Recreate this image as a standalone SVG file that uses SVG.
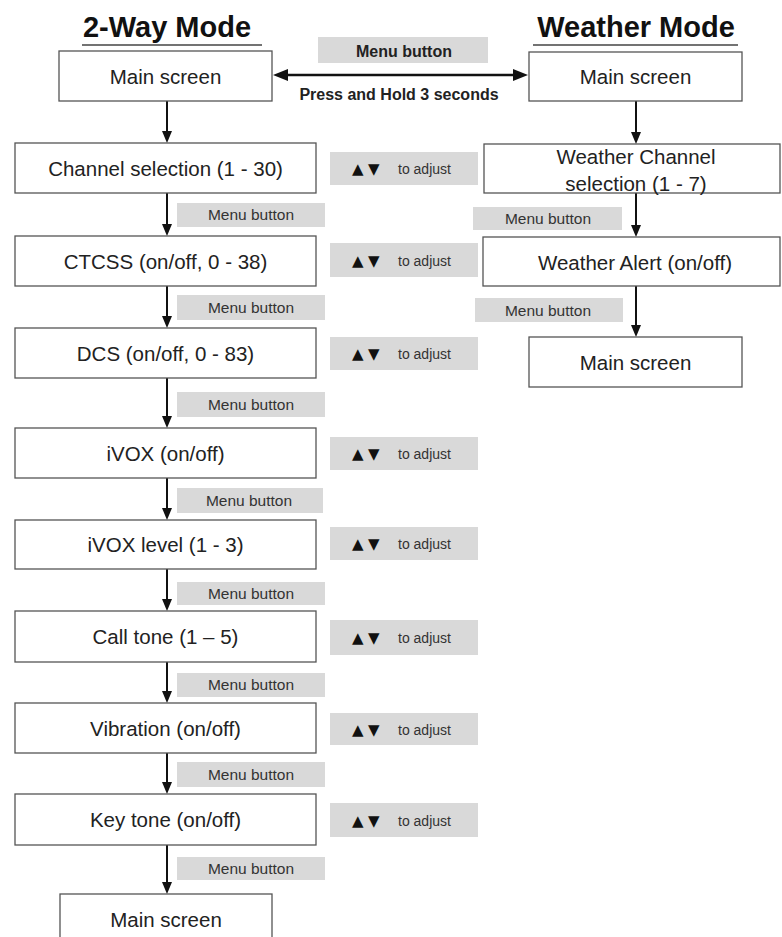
<svg xmlns="http://www.w3.org/2000/svg" width="782" height="937" viewBox="0 0 782 937">
<defs>
<marker id="ah" viewBox="0 0 12 10" refX="6" refY="5" markerWidth="12" markerHeight="10" markerUnits="userSpaceOnUse" orient="auto"><path d="M0,0 L12,5 L0,10 z" fill="#111"/></marker>
<marker id="ahb" viewBox="0 0 15 12" refX="8" refY="6" markerWidth="15" markerHeight="12" markerUnits="userSpaceOnUse" orient="auto-start-reverse"><path d="M0,0 L15,6 L0,12 z" fill="#111"/></marker>
</defs>
<style>
.box{fill:#fff;stroke:#555;stroke-width:1.3}
.t{font-family:"Liberation Sans",Arial,sans-serif;font-size:20.5px;fill:#222;text-anchor:middle}
.title{font-family:"Liberation Sans",Arial,sans-serif;font-size:29px;font-weight:bold;fill:#111;text-anchor:middle}
.ul{stroke:#444;stroke-width:1.5}
.grey{fill:#d9d9d9}
.m{font-family:"Liberation Sans",Arial,sans-serif;font-size:15.5px;fill:#333;text-anchor:middle}
.adj{font-family:"Liberation Sans",Arial,sans-serif;font-size:14px;fill:#333}
.tri{font-family:"DejaVu Sans",sans-serif;font-size:15px;fill:#111}
.b{font-family:"Liberation Sans",Arial,sans-serif;font-size:16px;font-weight:bold;fill:#222;text-anchor:middle}
.c{stroke:#111;stroke-width:2;fill:none;marker-end:url(#ah)}
</style>
<rect width="782" height="937" fill="#fff"/>

<g id="titles">
<text class="title" x="167" y="37">2-Way Mode</text>
<line class="ul" x1="82" y1="45" x2="262" y2="45"/>
<text class="title" x="636" y="37">Weather Mode</text>
<line class="ul" x1="533" y1="45" x2="738" y2="45"/>
</g>

<g id="connectors">
<line x1="280" y1="75" x2="521" y2="75" stroke="#111" stroke-width="2.5" marker-start="url(#ahb)" marker-end="url(#ahb)"/>
<line class="c" x1="167" y1="101" x2="167" y2="137"/>
<line class="c" x1="167" y1="193" x2="167" y2="230"/>
<line class="c" x1="167" y1="286" x2="167" y2="322"/>
<line class="c" x1="167" y1="378" x2="167" y2="422"/>
<line class="c" x1="167" y1="478" x2="167" y2="514"/>
<line class="c" x1="167" y1="569" x2="167" y2="605"/>
<line class="c" x1="167" y1="662" x2="167" y2="697"/>
<line class="c" x1="167" y1="753" x2="167" y2="788"/>
<line class="c" x1="167" y1="845" x2="167" y2="888"/>
<line class="c" x1="636" y1="101" x2="636" y2="138"/>
<line class="c" x1="636" y1="193" x2="636" y2="231"/>
<line class="c" x1="636" y1="286" x2="636" y2="331"/>
</g>

<g id="label-top">
<rect class="grey" x="318" y="37" width="170" height="26"/>
<text class="b" x="404" y="57">Menu button</text>
<text class="b" x="399" y="100">Press and Hold 3 seconds</text>
</g>

<g id="menu-labels">
<rect class="grey" x="177" y="203" width="148" height="24"/><text class="m" x="251" y="220">Menu button</text>
<rect class="grey" x="177" y="295" width="148" height="25"/><text class="m" x="251" y="313">Menu button</text>
<rect class="grey" x="177" y="392" width="148" height="25"/><text class="m" x="251" y="410">Menu button</text>
<rect class="grey" x="177" y="488" width="146" height="25"/><text class="m" x="249" y="506">Menu button</text>
<rect class="grey" x="177" y="582" width="148" height="23"/><text class="m" x="251" y="599">Menu button</text>
<rect class="grey" x="177" y="673" width="148" height="24"/><text class="m" x="251" y="690">Menu button</text>
<rect class="grey" x="177" y="762" width="148" height="25"/><text class="m" x="251" y="780">Menu button</text>
<rect class="grey" x="177" y="857" width="148" height="23"/><text class="m" x="251" y="874">Menu button</text>
<rect class="grey" x="473" y="207" width="149" height="23"/><text class="m" x="548" y="224">Menu button</text>
<rect class="grey" x="475" y="298" width="148" height="24"/><text class="m" x="548" y="316" fill="#555">Menu button</text>
</g>

<g id="adjust-labels">
<rect class="grey" x="330" y="152" width="148" height="33"/><text class="adj" y="174"><tspan class="tri" x="352">▲</tspan><tspan class="tri" x="368">▼</tspan><tspan x="398">to adjust</tspan></text>
<rect class="grey" x="330" y="243" width="148" height="34"/><text class="adj" y="266"><tspan class="tri" x="352">▲</tspan><tspan class="tri" x="368">▼</tspan><tspan x="398">to adjust</tspan></text>
<rect class="grey" x="330" y="337" width="148" height="33"/><text class="adj" y="359"><tspan class="tri" x="352">▲</tspan><tspan class="tri" x="368">▼</tspan><tspan x="398">to adjust</tspan></text>
<rect class="grey" x="330" y="437" width="148" height="33"/><text class="adj" y="459"><tspan class="tri" x="352">▲</tspan><tspan class="tri" x="368">▼</tspan><tspan x="398">to adjust</tspan></text>
<rect class="grey" x="330" y="527" width="148" height="33"/><text class="adj" y="549"><tspan class="tri" x="352">▲</tspan><tspan class="tri" x="368">▼</tspan><tspan x="398">to adjust</tspan></text>
<rect class="grey" x="330" y="620" width="148" height="35"/><text class="adj" y="643"><tspan class="tri" x="352">▲</tspan><tspan class="tri" x="368">▼</tspan><tspan x="398">to adjust</tspan></text>
<rect class="grey" x="330" y="713" width="148" height="32"/><text class="adj" y="735"><tspan class="tri" x="352">▲</tspan><tspan class="tri" x="368">▼</tspan><tspan x="398">to adjust</tspan></text>
<rect class="grey" x="330" y="803" width="148" height="34"/><text class="adj" y="826"><tspan class="tri" x="352">▲</tspan><tspan class="tri" x="368">▼</tspan><tspan x="398">to adjust</tspan></text>
</g>

<g id="n-main-left"><rect class="box" x="59" y="51" width="213" height="50"/><text class="t" x="165.5" y="84">Main screen</text></g>
<g id="n-channel"><rect class="box" x="15" y="143" width="301" height="50"/><text class="t" x="165.5" y="176">Channel selection (1 - 30)</text></g>
<g id="n-ctcss"><rect class="box" x="15" y="236" width="301" height="50"/><text class="t" x="165.5" y="269">CTCSS (on/off, 0 - 38)</text></g>
<g id="n-dcs"><rect class="box" x="15" y="328" width="301" height="50"/><text class="t" x="165.5" y="361">DCS (on/off, 0 - 83)</text></g>
<g id="n-ivox"><rect class="box" x="15" y="428" width="301" height="50"/><text class="t" x="165.5" y="461">iVOX (on/off)</text></g>
<g id="n-ivox-level"><rect class="box" x="15" y="520" width="301" height="49"/><text class="t" x="165.5" y="552">iVOX level (1 - 3)</text></g>
<g id="n-call-tone"><rect class="box" x="15" y="611" width="301" height="51"/><text class="t" x="165.5" y="644">Call tone (1 – 5)</text></g>
<g id="n-vibration"><rect class="box" x="15" y="703" width="301" height="50"/><text class="t" x="165.5" y="736">Vibration (on/off)</text></g>
<g id="n-key-tone"><rect class="box" x="15" y="794" width="301" height="51"/><text class="t" x="165.5" y="827">Key tone (on/off)</text></g>
<g id="n-main-left-end"><rect class="box" x="60" y="894" width="212" height="50"/><text class="t" x="166" y="927">Main screen</text></g>

<g id="n-main-right"><rect class="box" x="529" y="52" width="213" height="49"/><text class="t" x="635.5" y="84">Main screen</text></g>
<g id="n-weather-channel"><rect class="box" x="484" y="144" width="296" height="49"/><text class="t" x="636" y="164">Weather Channel</text><text class="t" x="636" y="191">selection (1 - 7)</text></g>
<g id="n-weather-alert"><rect class="box" x="483" y="237" width="297" height="49"/><text class="t" x="635" y="270">Weather Alert (on/off)</text></g>
<g id="n-main-right-end"><rect class="box" x="529" y="337" width="213" height="50"/><text class="t" x="635.5" y="370">Main screen</text></g>
</svg>
